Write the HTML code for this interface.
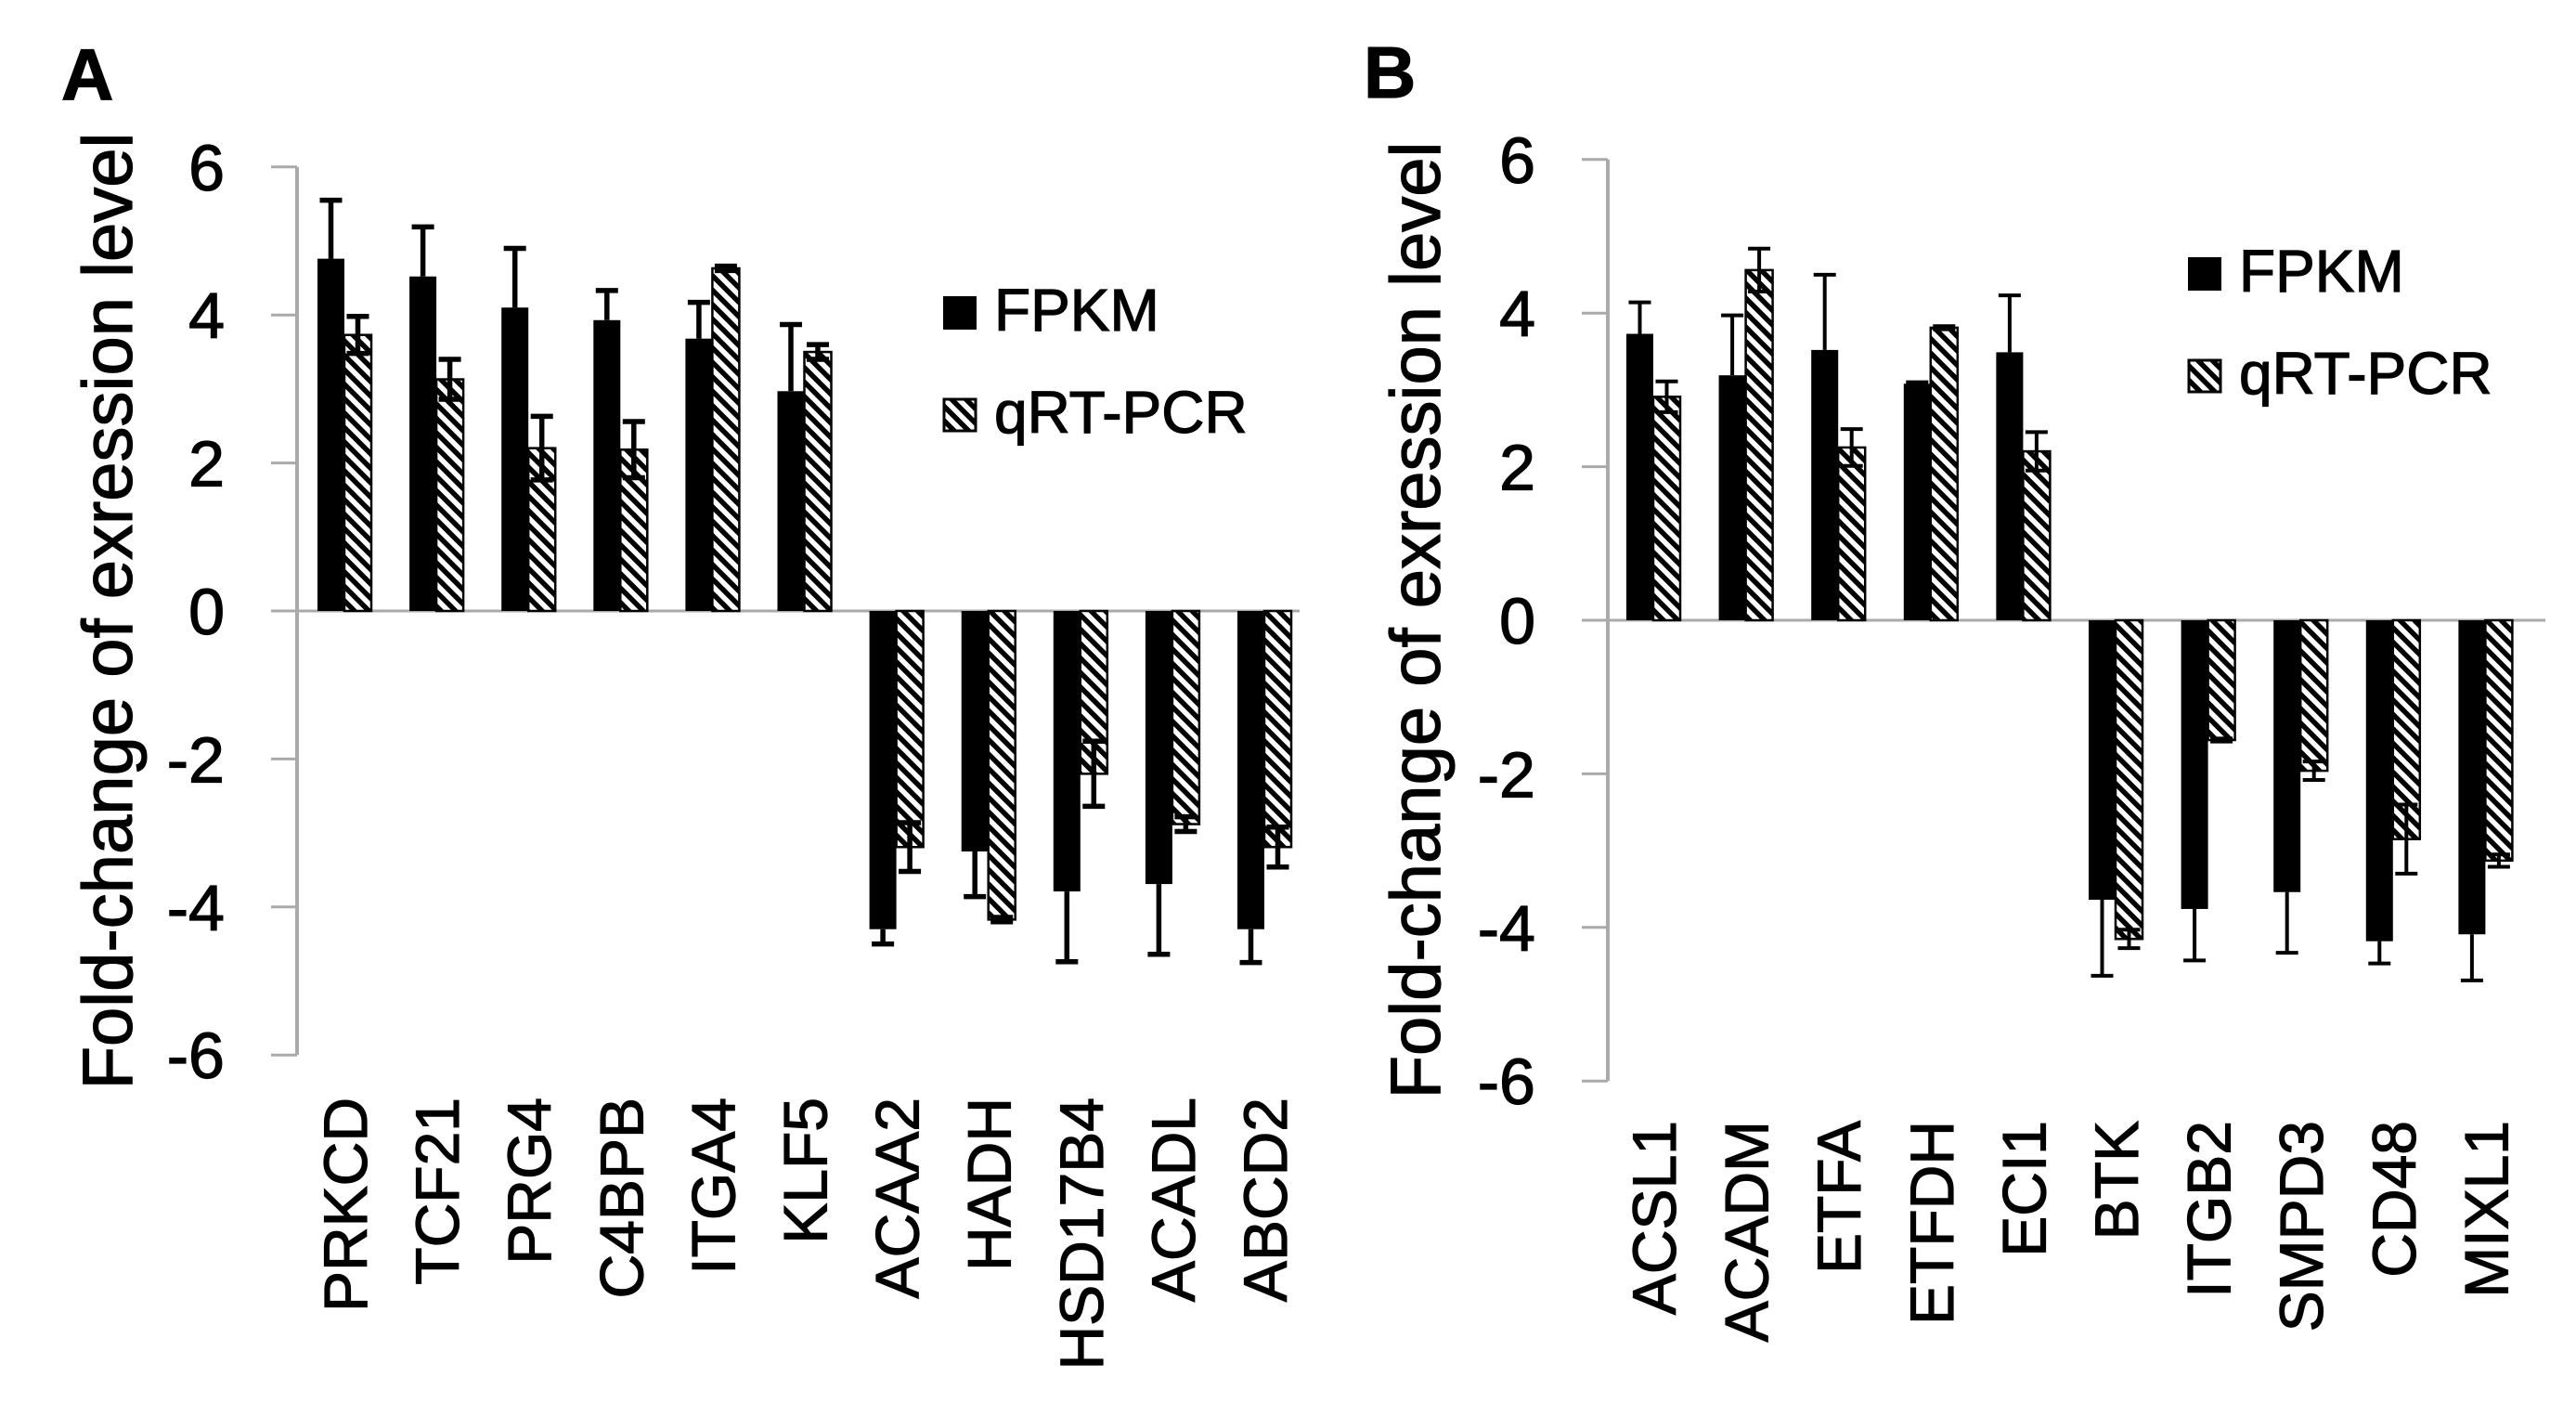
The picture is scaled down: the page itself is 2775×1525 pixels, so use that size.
<!DOCTYPE html>
<html><head><meta charset="utf-8">
<style>
html,body{margin:0;padding:0;background:#fff;}
svg{display:block;font-family:"Liberation Sans",Arial,sans-serif;}
text{stroke:#000;stroke-width:1.2px;}
</style></head>
<body>
<svg id="chart" width="2775" height="1525" viewBox="0 0 2775 1525" xmlns="http://www.w3.org/2000/svg">
<defs>
<pattern id="hatch" patternUnits="userSpaceOnUse" width="11" height="11" patternTransform="rotate(-45)">
<rect width="11" height="11" fill="#fff"/>
<rect x="0" y="0" width="5.5" height="11" fill="#000"/>
</pattern>
</defs>
<g id="root"></g>
</svg>
<script>
const catsA = ["PRKCD","TCF21","PRG4","C4BPB","ITGA4","KLF5","ACAA2","HADH","HSD17B4","ACADL","ABCD2"];
const fpkmA = [4.76,4.52,4.1,3.93,3.68,2.97,-4.3,-3.25,-3.79,-3.69,-4.3];
const fpkmErrA = [0.79,0.67,0.8,0.4,0.49,0.9,0.2,0.61,0.95,0.95,0.45];
const qpcrA = [3.73,3.13,2.2,2.18,4.63,3.5,-3.19,-4.17,-2.2,-2.88,-3.19];
const qpcrErrA = [0.25,0.27,0.43,0.38,0.03,0.1,0.33,0.03,0.44,0.1,0.27];
const catsB = ["ACSL1","ACADM","ETFA","ETFDH","ECI1","BTK","ITGB2","SMPD3","CD48","MIXL1"];
const fpkmB = [3.73,3.19,3.52,3.08,3.49,-3.64,-3.76,-3.54,-4.18,-4.09];
const fpkmErrB = [0.41,0.78,0.98,0.02,0.74,0.99,0.67,0.79,0.29,0.6];
const qpcrB = [2.91,4.56,2.25,3.81,2.2,-4.15,-1.56,-1.96,-2.85,-3.13];
const qpcrErrB = [0.2,0.28,0.24,0.02,0.25,0.12,0.02,0.12,0.45,0.08];
const yTicks = [6,4,2,0,-2,-4,-6];

const NS = "http://www.w3.org/2000/svg";
const root = document.getElementById("root");
function mk(tag, attrs, parent){
  const e = document.createElementNS(NS, tag);
  for (const k in attrs) e.setAttribute(k, attrs[k]);
  (parent || root).appendChild(e);
  return e;
}

function panel(cfg){
  const g = mk("g", {});
  
  
  const y = v => cfg.y0 - v * cfg.unit;
  const cx = i => cfg.first + i * cfg.step;
  const L = mk("text", {x: cfg.letterX, y: cfg.letterY, "font-size": 78, "font-weight": "bold"}, g);
  L.textContent = cfg.letter;
  
  
  const ax = mk("line", {x1: cfg.axisX, x2: cfg.axisX, y1: y(6), y2: y(-6), stroke: "#aaa", "stroke-width": 4}, g);
  
  
  yTicks.forEach(t => {
    const tk = mk("line", {x1: cfg.axisX - 28, x2: cfg.axisX, y1: y(t), y2: y(t), stroke: "#aaa", "stroke-width": 3}, g);
    
    
    const tl = mk("text", {x: cfg.axisX - 78, y: y(t) + 25, "font-size": 70, "text-anchor": "end"}, g);
    tl.textContent = t;
    
    
  });
  const zl = mk("line", {x1: cfg.axisX - 28, x2: cfg.zeroEnd, y1: y(0), y2: y(0), stroke: "#aaa", "stroke-width": 3}, g);
  
  
  const yt = mk("text", {x: 0, y: 0, "font-size": 76, "text-anchor": "middle", transform: `translate(${cfg.titleX},${(y(6)+y(-6))/2}) rotate(-90)`}, g);
  yt.textContent = "Fold-change of exression level";
  
  
  const bw = 29, lw = cfg.lw, cap = 12;
  cfg.cats.forEach((c, i) => {
    const c0 = cx(i);
    const v = cfg.fpkm[i];
    const b = mk("rect", {x: c0 - bw, y: Math.min(y(v), y(0)), width: bw, height: Math.abs(y(v) - y(0)), fill: "#000"}, g);
    
    
    const e = cfg.fpkmErr[i], sg = v >= 0 ? 1 : -1, xe = c0 - bw / 2;
    const eb = mk("path", {d: `M${xe},${y(v)} V${y(v + sg*e)} M${xe-cap},${y(v + sg*e)} H${xe+cap}`, stroke: "#000", "stroke-width": lw, fill: "none"}, g);
    
    
    const q = cfg.qpcr[i];
    const hb = mk("rect", {x: c0, y: Math.min(y(q), y(0)), width: bw, height: Math.abs(y(q) - y(0)), fill: "url(#hatch)", stroke: "#000", "stroke-width": 2.5}, g);
    
    
    const qe = cfg.qpcrErr[i], xq = c0 + bw / 2;
    const qb = mk("path", {d: `M${xq},${y(q - qe)} V${y(q + qe)} M${xq-cap},${y(q - qe)} H${xq+cap} M${xq-cap},${y(q + qe)} H${xq+cap}`, stroke: "#000", "stroke-width": lw, fill: "none"}, g);
    
    
    const cl = mk("text", {x: 0, y: 0, "font-size": 66, "text-anchor": "end", transform: `translate(${c0 + 24},${cfg.labelTop}) rotate(-90)`}, g);
    cl.textContent = c;
    
    
  });
  const s1 = mk("rect", {x: cfg.legX, y: cfg.legY, width: 36, height: 36, fill: "#000"}, g);
  
  
  const t1 = mk("text", {x: cfg.legX + 55, y: cfg.legY + 37, "font-size": 64}, g);
  t1.textContent = "FPKM";
  
  
  const s2 = mk("rect", {x: cfg.legX + 1, y: cfg.legY + 111, width: 34, height: 34, fill: "url(#hatch)", stroke: "#000", "stroke-width": 3}, g);
  
  
  const t2 = mk("text", {x: cfg.legX + 55, y: cfg.legY + 147, "font-size": 64}, g);
  t2.textContent = "qRT-PCR";
  
  
}

panel({name: "panel-a", letter: "A", letterX: 66, letterY: 107, axisX: 320, y0: 658, unit: 79.7,
  first: 371, step: 99.1, zeroEnd: 1400, titleX: 142, labelTop: 1182, lw: 5.5,
  cats: catsA, fpkm: fpkmA, fpkmErr: fpkmErrA, qpcr: qpcrA, qpcrErr: qpcrErrA, legX: 1016, legY: 319});
panel({name: "panel-b", letter: "B", letterX: 1469, letterY: 105, axisX: 1732, y0: 668, unit: 82.7,
  first: 1781, step: 99.6, zeroEnd: 2742, titleX: 1551, labelTop: 1207, lw: 4,
  cats: catsB, fpkm: fpkmB, fpkmErr: fpkmErrB, qpcr: qpcrB, qpcrErr: qpcrErrB, legX: 2357, legY: 277});
</script>
</body></html>
